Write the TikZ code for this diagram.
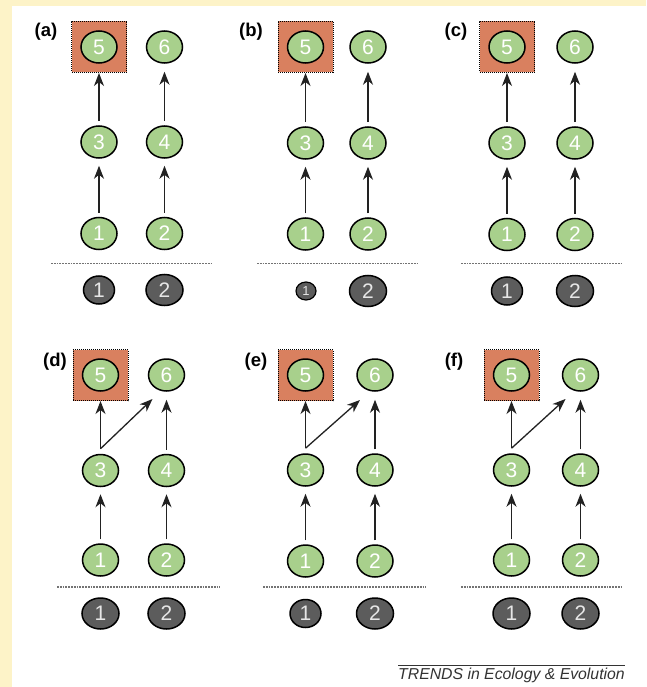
\documentclass[tikz,border=0pt]{standalone}
\usepackage{fontspec}
\setmainfont{Liberation Sans}
\usetikzlibrary{shapes.geometric,arrows.meta,calc}
\definecolor{cream}{HTML}{FDF3C8}
\definecolor{nodegreen}{HTML}{A8D08C}
\definecolor{nodegray}{HTML}{5C5C5C}
\definecolor{graytext}{HTML}{E6E6E6}
\definecolor{sqorange}{HTML}{D9805F}
\definecolor{arrowgray}{HTML}{222222}
\definecolor{footgray}{HTML}{333333}
\newcommand{\digitfont}{\fontsize{21}{21}\selectfont}
\newcommand{\tinydigitfont}{\fontsize{13}{13}\selectfont}
\newcommand{\panellabelfont}{\fontsize{18.5}{18.5}\selectfont\bfseries}
\begin{document}
\begin{tikzpicture}[x=1pt,y=-1pt,
  gn/.style={ellipse, draw=black, line width=1.5pt, fill=nodegreen, minimum width=36pt, minimum height=32pt, inner sep=0pt, text=white, font=\digitfont},
  gy/.style={ellipse, draw=black, line width=1.5pt, fill=nodegray, minimum width=37pt, minimum height=31pt, inner sep=0pt, text=graytext, font=\digitfont},
  gysmall/.style={gy, minimum width=31pt, minimum height=28pt},
  gytiny/.style={gy, line width=1.2pt, minimum width=20pt, minimum height=18pt, font=\tinydigitfont},
  sq/.style={draw=black, densely dotted, line width=1pt, fill=sqorange, minimum width=55pt, minimum height=51pt, inner sep=0pt},
  arr/.style={draw=arrowgray, line width=1.3pt, -{Stealth[length=13pt,width=10pt,inset=4pt]}},
  sep/.style={draw=black!55, densely dotted, line width=1.8pt},
  plabel/.style={font=\panellabelfont, text=black},
  up1/.style={shorten <=4pt, shorten >=7pt},
  up2/.style={shorten <=4pt},
  up2b/.style={shorten <=4pt, shorten >=8pt}
]
\useasboundingbox (0,0) rectangle (646,687);
\fill[cream] (0,0) rectangle (646,687);
\fill[white] (12,6) rectangle (646,687);

% ---------- panel (a)
\node[plabel] (la) at (46,32) {(a)};
\node[sq] (a-sq) at (99,47) {};
\node[gn] (a5) at (99,47) {5};
\node[gn] (a6) at (164.5,47) {6};
\node[gn] (a3) at (99,142) {3};
\node[gn] (a4) at (164.5,142) {4};
\node[gn] (a1) at (99,233.5) {1};
\node[gn] (a2) at (164.5,233.5) {2};
\coordinate (a-l) at (51,263.5);
\coordinate (a-r) at (213,263.5);
\draw[sep] (a-l) -- (a-r);
\node[gysmall] (ag1) at (99,290) {1};
\node[gy] (ag2) at (164.5,290) {2};
\draw[arr,up1] (a1.north) -- (a3.south);
\draw[arr,up1] (a2.north) -- (a4.south);
\draw[arr,up2] (a3.north) -- (a-sq.south);
\draw[arr,up2b] (a4.north) -- (a6.south);

% ---------- panel (b)
\node[plabel] (lb) at (251,32) {(b)};
\node[sq] (b-sq) at (305.5,47) {};
\node[gn] (b5) at (305.5,47) {5};
\node[gn] (b6) at (368,47) {6};
\node[gn] (b3) at (305.5,143) {3};
\node[gn] (b4) at (368,143) {4};
\node[gn] (b1) at (305.5,234) {1};
\node[gn] (b2) at (368,234) {2};
\coordinate (b-l) at (257,263.5);
\coordinate (b-r) at (419,263.5);
\draw[sep] (b-l) -- (b-r);
\node[gytiny] (bg1) at (306,291) {1};
\node[gy] (bg2) at (368,291) {2};
\draw[arr,up1] (b1.north) -- (b3.south);
\draw[arr,up1] (b2.north) -- (b4.south);
\draw[arr,up2] (b3.north) -- (b-sq.south);
\draw[arr,up2b] (b4.north) -- (b6.south);

% ---------- panel (c)
\node[plabel] (lc) at (456,32) {(c)};
\node[sq] (c-sq) at (507,47) {};
\node[gn] (c5) at (507,47) {5};
\node[gn] (c6) at (575,47) {6};
\node[gn] (c3) at (507,143) {3};
\node[gn] (c4) at (575,143) {4};
\node[gn] (c1) at (507,234.5) {1};
\node[gn] (c2) at (575,234.5) {2};
\coordinate (c-l) at (461,263.5);
\coordinate (c-r) at (623,263.5);
\draw[sep] (c-l) -- (c-r);
\node[gysmall] (cg1) at (507,291) {1};
\node[gy] (cg2) at (575,291) {2};
\draw[arr,up1] (c1.north) -- (c3.south);
\draw[arr,up1] (c2.north) -- (c4.south);
\draw[arr,up2] (c3.north) -- (c-sq.south);
\draw[arr,up2b] (c4.north) -- (c6.south);

% ---------- panel (d)
\node[plabel] (ld) at (55,362) {(d)};
\node[sq] (d-sq) at (100.5,375) {};
\node[gn] (d5) at (100.5,375) {5};
\node[gn] (d6) at (166.5,375) {6};
\node[gn] (d3) at (100.5,470.5) {3};
\node[gn] (d4) at (166.5,470.5) {4};
\node[gn] (d1) at (100.5,560) {1};
\node[gn] (d2) at (166.5,560) {2};
\coordinate (d-l) at (57,587);
\coordinate (d-r) at (220,587);
\draw[sep] (d-l) -- (d-r);
\node[gy] (dg1) at (100.5,613.5) {1};
\node[gy] (dg2) at (166.5,613.5) {2};
\coordinate (d-fork) at ($(d3.north)+(0,-5)$);
\coordinate (d-tip) at ($(d6)+(-14,24)$);
\draw[arr,up1] (d1.north) -- (d3.south);
\draw[arr,up1] (d2.north) -- (d4.south);
\draw[arr] (d-fork) -- (d-sq.south);
\draw[arr] (d-fork) -- (d-tip);
\draw[arr,up2b] (d4.north) -- (d6.south);

% ---------- panel (e)
\node[plabel] (le) at (256,362) {(e)};
\node[sq] (e-sq) at (305.5,375) {};
\node[gn] (e5) at (305.5,375) {5};
\node[gn] (e6) at (375,375) {6};
\node[gn] (e3) at (305.5,470) {3};
\node[gn] (e4) at (375,470) {4};
\node[gn] (e1) at (305.5,561) {1};
\node[gn] (e2) at (375,561) {2};
\coordinate (e-l) at (263,587);
\coordinate (e-r) at (426,587);
\draw[sep] (e-l) -- (e-r);
\node[gysmall] (eg1) at (305.5,613.5) {1};
\node[gy] (eg2) at (375,613.5) {2};
\coordinate (e-fork) at ($(e3.north)+(0,-5)$);
\coordinate (e-tip) at ($(e6)+(-15,25)$);
\draw[arr,up1] (e1.north) -- (e3.south);
\draw[arr,up1] (e2.north) -- (e4.south);
\draw[arr] (e-fork) -- (e-sq.south);
\draw[arr] (e-fork) -- (e-tip);
\draw[arr,up2b] (e4.north) -- (e6.south);

% ---------- panel (f)
\node[plabel] (lf) at (454,362) {(f)};
\node[sq] (f-sq) at (511.5,375) {};
\node[gn] (f5) at (511.5,375) {5};
\node[gn] (f6) at (580.5,375) {6};
\node[gn] (f3) at (511.5,470) {3};
\node[gn] (f4) at (580.5,470) {4};
\node[gn] (f1) at (511.5,560) {1};
\node[gn] (f2) at (580.5,560) {2};
\coordinate (f-l) at (461,587);
\coordinate (f-r) at (623,587);
\draw[sep] (f-l) -- (f-r);
\node[gy] (fg1) at (511.5,613.5) {1};
\node[gy] (fg2) at (580.5,613.5) {2};
\coordinate (f-fork) at ($(f3.north)+(0,-5)$);
\coordinate (f-tip) at ($(f6)+(-15,24)$);
\draw[arr,up1] (f1.north) -- (f3.south);
\draw[arr,up1] (f2.north) -- (f4.south);
\draw[arr] (f-fork) -- (f-sq.south);
\draw[arr] (f-fork) -- (f-tip);
\draw[arr,up2b] (f4.north) -- (f6.south);

% ---------- footer
\node[font=\fontsize{15.8}{15.8}\selectfont\itshape, text=footgray, inner xsep=0pt, inner ysep=1pt, anchor=center] (foot) at (511.5,675.5) {TRENDS in Ecology \& Evolution};
\draw[footgray, line width=0.8pt] ([yshift=2pt]foot.north west) -- ([yshift=2pt]foot.north east);
\end{tikzpicture}
\end{document}
